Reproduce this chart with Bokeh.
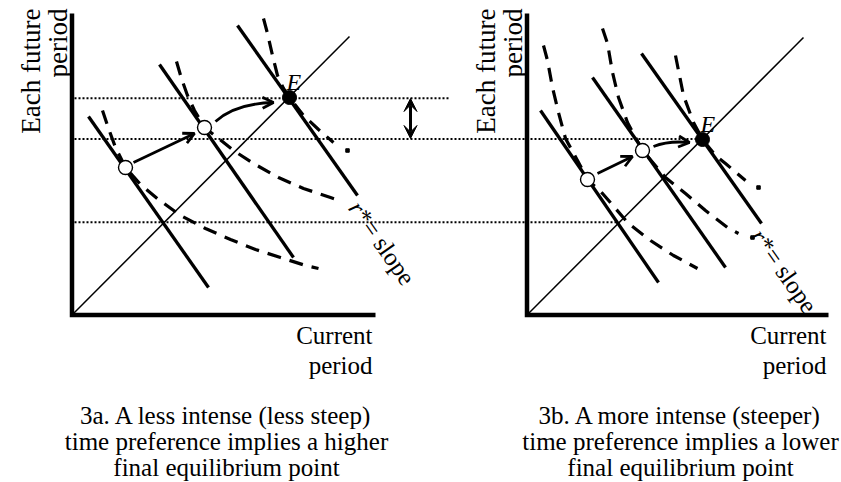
import math
from bokeh.plotting import figure
from bokeh.models import Range1d, Arrow, OpenHead, VeeHead
from bokeh.core.properties import value
from bokeh.embed import file_html
from bokeh.resources import INLINE

FONT = "Liberation Serif"

# ---------------- data (diagram coordinates, y measured downward) ----------------
# axes (vertical then horizontal) for panel a and panel b
axis_a_x = [71.5, 71.5, 375]
axis_a_y = [13, 314.5, 314.5]
axis_b_x = [526.5, 526.5, 828]
axis_b_y = [13, 314.5, 314.5]

# 45-degree lines
diag_x0 = [71.5, 526.5]
diag_y0 = [314.5, 314.5]
diag_x1 = [349, 803]
diag_y1 = [36, 37]

# budget lines (slope = r*)
budget_x0 = [88, 159, 237, 540, 592, 641]
budget_y0 = [116, 64, 25, 110, 77, 53]
budget_x1 = [208, 293, 357, 658, 725, 761]
budget_y1 = [287, 257, 195, 282, 267, 223]

# indifference curves (dashed)
curve_a1_x = [102, 108, 115, 125, 140, 158, 180, 205, 230, 255, 280, 305, 318]
curve_a1_y = [110, 128, 147, 167, 184, 199, 215, 228, 239, 249, 257, 265, 268]
curve_a2_x = [176, 181, 187, 194, 204, 218, 233, 253, 278, 303, 330, 342]
curve_a2_y = [61, 78, 95, 110, 127, 138, 150, 163, 177, 188, 197, 201]
curve_a3_x = [263, 267, 272, 277, 283, 289, 303, 318, 333, 347]
curve_a3_y = [18, 33, 55, 75, 88, 97, 115, 129, 142, 150]
curve_b1_x = [543, 547, 552, 558, 565, 577, 587, 602, 615, 628, 650, 673, 697]
curve_b1_y = [45, 60, 87, 112, 138, 160, 179, 193, 208, 223, 240, 255, 268]
curve_b2_x = [602, 607, 612, 618, 627, 642, 665, 685, 705, 727, 738, 752]
curve_b2_y = [28, 43, 72, 97, 122, 150, 177, 193, 210, 227, 233, 237]
curve_b3_x = [675, 678, 683, 693, 702, 715, 725, 745, 758]
curve_b3_y = [55, 70, 95, 122, 139, 155, 163, 180, 187]
curves = [(curve_a1_x, curve_a1_y), (curve_a2_x, curve_a2_y), (curve_a3_x, curve_a3_y),
          (curve_b1_x, curve_b1_y), (curve_b2_x, curve_b2_y), (curve_b3_x, curve_b3_y)]
curve_end_dot = [False, False, True, False, True, True]

# tangency points: open circles and final equilibrium E (filled)
open_x = [125, 204, 587, 642]
open_y = [167, 127, 179, 150]
eq_x = [289, 702]
eq_y = [97, 139]

# dotted reference levels
dot_y = [97.7, 138.5, 221.7]
dot_x0 = [74, 74, 74]
dot_x1 = [450, 700, 617]

# movement arrows: straight ones
arrow_x0 = [133, 597]
arrow_y0 = [162, 173]
arrow_x1 = [194, 632]
arrow_y1 = [133, 156]
# curved ones (quadratic: start, control, end)
carrow_x0 = [215, 653]
carrow_y0 = [121, 146]
carrow_cx = [235, 668]
carrow_cy = [103, 140]
carrow_x1 = [273, 689]
carrow_y1 = [102, 142]

# double-headed arrow showing the gap
gap_x = 410
gap_y0 = 98
gap_y1 = 138

# texts
ylab_lines = ["Each future", "period"]
ylab_x = [[30, 57], [485, 512]]
xlab_lines = ["Current", "period"]
xlab_right = [372, 826]
xlab_base = [335, 365]
cap_a = ["3a. A less intense (less steep)", "time preference implies a higher", "final equilibrium point"]
cap_b = ["3b. A more intense (steeper)", "time preference implies a lower", "final equilibrium point"]
cap_center = [226, 680]
cap_base = [415, 441, 467]
e_x = [286, 700]
e_y = [81, 123]
rs_x = [354, 756]
rs_y = [203, 231]

# ---------------- figure ----------------
p = figure(width=841, height=482, x_range=Range1d(0, 841), y_range=Range1d(482, 0),
           x_axis_type=None, y_axis_type=None, toolbar_location=None,
           output_backend="svg", min_border=0)
p.outline_line_color = None
p.background_fill_color = "white"
p.border_fill_color = "white"

BLACK = "black"

# dotted reference lines
p.segment(x0=dot_x0, y0=dot_y, x1=dot_x1, y1=dot_y, line_color=BLACK,
          line_width=2, line_dash="2 2")

# diagonals
p.segment(x0=diag_x0, y0=diag_y0, x1=diag_x1, y1=diag_y1, line_color=BLACK, line_width=1.5)

# dashed indifference curves
for (cx, cy), dot in zip(curves, curve_end_dot):
    xs = cx[:-1] if dot else cx
    ys = cy[:-1] if dot else cy
    p.line(xs, ys, line_color=BLACK, line_width=3.2, line_dash="14 9")
    if dot:
        p.scatter([cx[-1]], [cy[-1]], marker="square", size=3.5, color=BLACK)

# budget lines
p.segment(x0=budget_x0, y0=budget_y0, x1=budget_x1, y1=budget_y1, line_color=BLACK, line_width=3.3)

# axes
for ax_x, ax_y in [(axis_a_x, axis_a_y), (axis_b_x, axis_b_y)]:
    p.line(ax_x, ax_y, line_color=BLACK, line_width=4.5, line_join="miter")

# arrows
for i in range(2):
    p.add_layout(Arrow(end=OpenHead(size=11, line_width=2.8, line_color=BLACK),
                       x_start=arrow_x0[i], y_start=arrow_y0[i], x_end=arrow_x1[i], y_end=arrow_y1[i],
                       line_width=2.8, line_color=BLACK))
p.quadratic(x0=carrow_x0, y0=carrow_y0, cx=carrow_cx, cy=carrow_cy, x1=carrow_x1, y1=carrow_y1,
            line_color=BLACK, line_width=2.8)
for i in range(2):
    dx = carrow_x1[i] - carrow_cx[i]
    dy = carrow_y1[i] - carrow_cy[i]
    n = math.hypot(dx, dy)
    p.add_layout(Arrow(end=OpenHead(size=11, line_width=2.8, line_color=BLACK),
                       x_start=carrow_x1[i] - 6 * dx / n, y_start=carrow_y1[i] - 6 * dy / n,
                       x_end=carrow_x1[i], y_end=carrow_y1[i], line_alpha=0))
p.add_layout(Arrow(start=VeeHead(size=13, fill_color=BLACK, line_color=BLACK),
                   end=VeeHead(size=13, fill_color=BLACK, line_color=BLACK),
                   x_start=gap_x, y_start=gap_y0, x_end=gap_x, y_end=gap_y1,
                   line_width=3, line_color=BLACK))

# points
p.scatter(open_x, open_y, marker="circle", size=14, fill_color="white", line_color=BLACK, line_width=1.4)
p.scatter(eq_x, eq_y, marker="circle", size=14, fill_color=BLACK, line_color=BLACK)

# texts
common = dict(text_font=value(FONT), text_color=BLACK)
for k in range(2):
    for j, t in enumerate(ylab_lines):
        p.text(x=[ylab_x[k][j]], y=[8], text=[t], angle=math.pi / 2, text_align="right",
               text_baseline="alphabetic", text_font_size="27px", **common)
    for j, t in enumerate(xlab_lines):
        p.text(x=[xlab_right[k]], y=[xlab_base[j]], text=[t], text_align="right",
               text_baseline="alphabetic", text_font_size="25px", **common)
    caps = cap_a if k == 0 else cap_b
    for j, t in enumerate(caps):
        p.text(x=[cap_center[k]], y=[cap_base[j]], text=[t], text_align="center",
               text_baseline="alphabetic", text_font_size="25px", **common)
    p.text(x=[e_x[k]], y=[e_y[k]], text=["E"], text_align="left", text_baseline="alphabetic",
           text_font_size="24px", text_font_style="italic", **common)
    ang = math.radians(55)
    p.text(x=[rs_x[k]], y=[rs_y[k]], text=["r"], angle=-ang, text_align="left",
           text_baseline="alphabetic", text_font_size="25px", text_font_style="italic", **common)
    off = 10.5
    p.text(x=[rs_x[k] + off * math.cos(ang)], y=[rs_y[k] + off * math.sin(ang)], text=["*= slope"],
           angle=-ang, text_align="left", text_baseline="alphabetic", text_font_size="25px", **common)

open("out.html", "w").write(file_html(p, INLINE))
